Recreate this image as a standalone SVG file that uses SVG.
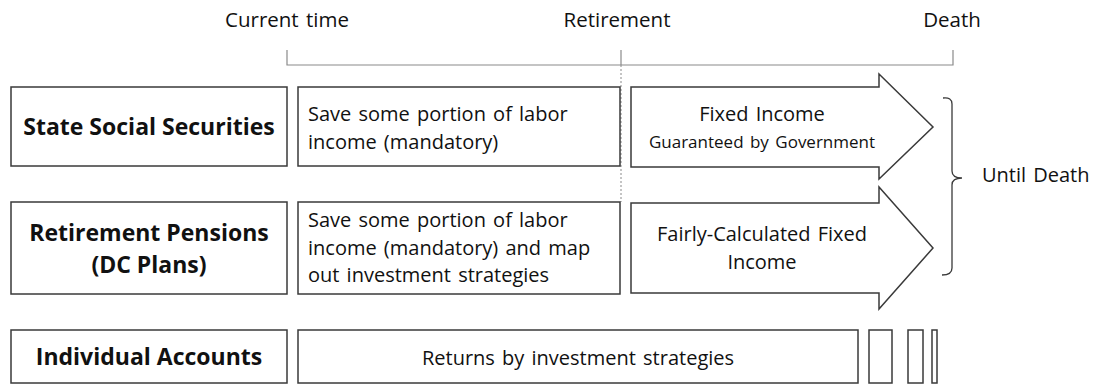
<svg xmlns="http://www.w3.org/2000/svg" width="1099" height="385" viewBox="0 0 1099 385">
  <style>
    .box { fill: #fff; stroke: #3a3a3a; stroke-width: 1.5; }
    .arrow { fill: #fff; stroke: #3a3a3a; stroke-width: 1.5; stroke-linejoin: miter; }
    .axis { fill: none; stroke: #8a8a8a; stroke-width: 1.2; }
    .dot { fill: none; stroke: #8a8a8a; stroke-width: 1; stroke-dasharray: 2 2; }
    .brace { fill: none; stroke: #3a3a3a; stroke-width: 1.3; }
    text { font-family: "Open Sans", "Noto Sans", "DejaVu Sans", sans-serif; fill: #111; word-spacing: 2px; }
    .head { font-size: 20.5px; text-anchor: middle; }
    .title { font-size: 23px; font-weight: bold; text-anchor: middle; word-spacing: 0; }
    .body { font-size: 20px; }
    .mid { font-size: 20px; text-anchor: middle; }
    .small { font-size: 17px; text-anchor: middle; }
  </style>

  <!-- timeline -->
  <g id="timeline">
    <text class="head" x="287" y="27">Current time</text>
    <text class="head" x="617" y="27">Retirement</text>
    <text class="head" x="952" y="27">Death</text>
    <path class="axis" d="M287 50 V65 H953 V50"/>
    <path class="axis" d="M621 50 V65"/>
    <path class="dot" d="M621 65 V202"/>
  </g>

  <!-- row 1 -->
  <g id="state-social">
    <rect class="box" x="11" y="87" width="276" height="79"/>
    <text class="title" x="149" y="135">State Social Securities</text>
  </g>
  <g id="state-save">
    <rect class="box" x="298" y="87" width="322" height="79"/>
    <text class="body" x="308" y="121">Save some portion of labor</text>
    <text class="body" x="308" y="149">income (mandatory)</text>
  </g>
  <g id="state-income">
    <path class="arrow" d="M631 87 H879 V74 L933 127 L879 179 V167 H631 Z"/>
    <text class="mid" x="762" y="121">Fixed Income</text>
    <text class="small" x="762" y="148">Guaranteed by Government</text>
  </g>

  <!-- row 2 -->
  <g id="retirement-pensions">
    <rect class="box" x="11" y="202" width="276" height="92"/>
    <text class="title" x="149" y="241">Retirement Pensions</text>
    <text class="title" x="149" y="273">(DC Plans)</text>
  </g>
  <g id="pension-save">
    <rect class="box" x="298" y="202" width="322" height="92"/>
    <text class="body" x="308" y="227">Save some portion of labor</text>
    <text class="body" x="308" y="254.5">income (mandatory) and map</text>
    <text class="body" x="308" y="282">out investment strategies</text>
  </g>
  <g id="pension-income">
    <path class="arrow" d="M631 203 H879 V187 L933 248 L879 309 V293 H631 Z"/>
    <text class="mid" x="762" y="241">Fairly-Calculated Fixed</text>
    <text class="mid" x="762" y="269">Income</text>
  </g>

  <!-- until death brace -->
  <g id="until-death">
    <path class="brace" d="M943 98 Q952 97 952 104 V171 Q952 178 962 178 Q952 178 952 185 V268 Q952 275 942 275"/>
    <text class="body" x="982" y="182">Until Death</text>
  </g>

  <!-- row 3 -->
  <g id="individual-accounts">
    <rect class="box" x="11" y="330" width="276" height="53"/>
    <text class="title" x="149" y="365">Individual Accounts</text>
  </g>
  <g id="individual-returns">
    <rect class="box" x="298" y="330" width="560" height="53"/>
    <text class="mid" x="578" y="365">Returns by investment strategies</text>
    <rect class="box" x="869" y="330" width="23" height="53"/>
    <rect class="box" x="908" y="330" width="15" height="53"/>
    <rect class="box" x="932" y="330" width="5" height="53"/>
  </g>
</svg>
